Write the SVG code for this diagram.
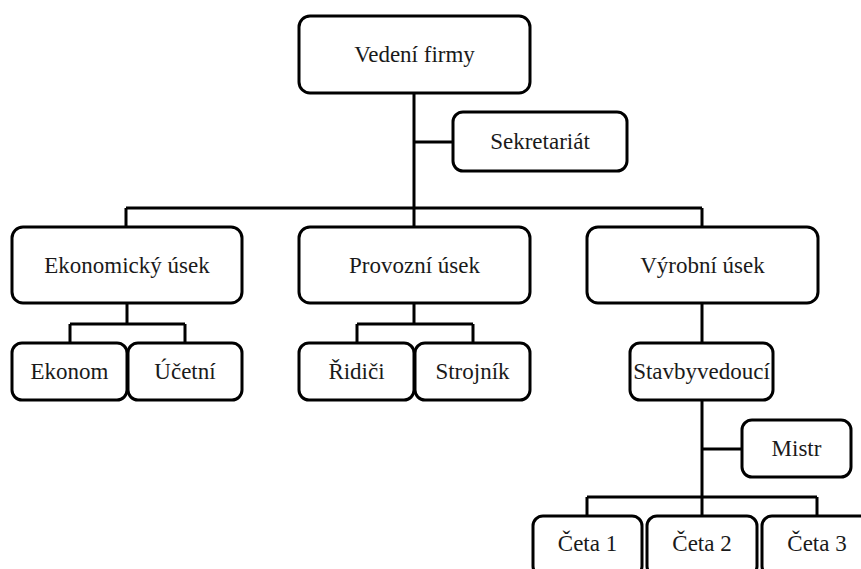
<svg xmlns="http://www.w3.org/2000/svg" width="861" height="569" viewBox="0 0 861 569">
<style>
.box{fill:#fff;stroke:#000;stroke-width:3}
.lbl{font-family:"Liberation Serif","Times New Roman",serif;font-size:23px;fill:#1a1a1a;text-anchor:middle}
.con{fill:none;stroke:#000;stroke-width:3}
</style>
<rect width="861" height="569" fill="#fff"/>
<g id="connectors">
<path class="con" d="M414,93V208M414,142H453M126,208H702M126,208V227M414,208V227M702,208V227"/>
<path class="con" d="M127,303V324M70,324H185M70,324V343M185,324V343"/>
<path class="con" d="M414,303V324M357,324H473M357,324V343M473,324V343"/>
<path class="con" d="M702,303V343M702,400V497M702,449H742M587,497H817M587,497V516M702,497V516M817,497V516"/>
</g>
<g id="vedeni"><rect class="box" x="299" y="16" width="231" height="77" rx="11"/><text class="lbl" x="414.5" y="62">Vedení firmy</text></g>
<g id="sekretariat"><rect class="box" x="453" y="112" width="174" height="59" rx="10"/><text class="lbl" x="540" y="149">Sekretariát</text></g>
<g id="ekonomicky"><rect class="box" x="12" y="227" width="230" height="76" rx="11"/><text class="lbl" x="127" y="273">Ekonomický úsek</text></g>
<g id="provozni"><rect class="box" x="299" y="227" width="231" height="76" rx="11"/><text class="lbl" x="414.5" y="273">Provozní úsek</text></g>
<g id="vyrobni"><rect class="box" x="587" y="227" width="231" height="76" rx="11"/><text class="lbl" x="702.5" y="273">Výrobní úsek</text></g>
<g id="ekonom"><rect class="box" x="12" y="343" width="115" height="57" rx="10"/><text class="lbl" x="69.5" y="379">Ekonom</text></g>
<g id="ucetni"><rect class="box" x="128" y="343" width="114" height="57" rx="10"/><text class="lbl" x="185" y="379">Účetní</text></g>
<g id="ridici"><rect class="box" x="299" y="343" width="115" height="57" rx="10"/><text class="lbl" x="356.5" y="379">Řidiči</text></g>
<g id="strojnik"><rect class="box" x="415" y="343" width="115" height="57" rx="10"/><text class="lbl" x="472.5" y="379">Strojník</text></g>
<g id="stavbyvedouci"><rect class="box" x="630" y="343" width="143" height="57" rx="10"/><text class="lbl" x="701.5" y="379">Stavbyvedoucí</text></g>
<g id="mistr"><rect class="box" x="742" y="420" width="109" height="57" rx="10"/><text class="lbl" x="796.5" y="456">Mistr</text></g>
<g id="ceta1"><rect class="box" x="533" y="516" width="109" height="60" rx="10"/><text class="lbl" x="587.5" y="551">Četa 1</text></g>
<g id="ceta2"><rect class="box" x="647" y="516" width="110" height="60" rx="10"/><text class="lbl" x="702" y="551">Četa 2</text></g>
<g id="ceta3"><rect class="box" x="762" y="516" width="110" height="60" rx="10"/><text class="lbl" x="817" y="551">Četa 3</text></g>
</svg>
